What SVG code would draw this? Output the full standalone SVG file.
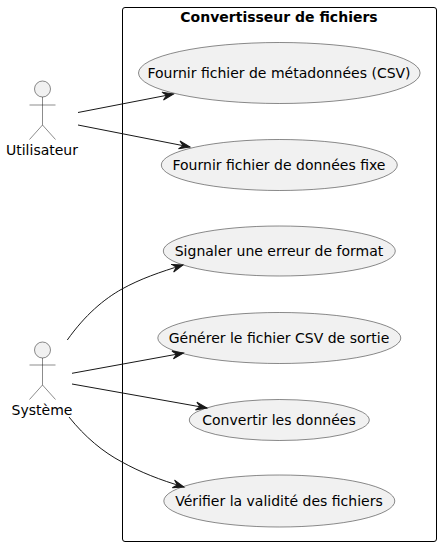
<svg xmlns="http://www.w3.org/2000/svg" width="441" height="547" viewBox="0 0 441 547">
<style>
text{font-family:"DejaVu Sans",sans-serif;font-size:14px;fill:#000;text-anchor:middle}
.title{font-weight:bold}
.uc{fill:#F1F1F1;stroke:#181818;stroke-width:.5}
.actor{fill:none;stroke:#181818;stroke-width:.5}
.head{fill:#F1F1F1;stroke:#181818;stroke-width:.5}
.link{fill:none;stroke:#181818;stroke-width:1}
.boundary{fill:none;stroke:#000;stroke-width:1}
</style>
<defs>
<marker id="arrow" markerUnits="userSpaceOnUse" markerWidth="12" markerHeight="12" refX="11" refY="5" orient="auto" overflow="visible">
<path d="M0 1L11 5L0 9L4 5Z" fill="#181818" stroke="#181818" stroke-width="1"/>
</marker>
</defs>
<g id="boundary"><rect class="boundary" x="122.5" y="7.500" width="314" height="534" rx="2.500"/><text class="title" x="279" y="22">Convertisseur de fichiers</text></g>
<g id="uc1"><ellipse class="uc" cx="279.300" cy="73" rx="140.800" ry="30.500"/><text x="279" y="78">Fournir fichier de métadonnées (CSV)</text></g>
<g id="uc2"><ellipse class="uc" cx="279.300" cy="165" rx="118" ry="25.500"/><text x="279" y="170">Fournir fichier de données fixe</text></g>
<g id="uc3"><ellipse class="uc" cx="279.300" cy="251" rx="116" ry="25"/><text x="279" y="256">Signaler une erreur de format</text></g>
<g id="uc4"><ellipse class="uc" cx="279.300" cy="338" rx="121.500" ry="25.500"/><text x="279" y="343">Générer le fichier CSV de sortie</text></g>
<g id="uc5"><ellipse class="uc" cx="279.300" cy="420" rx="90" ry="20.500"/><text x="279" y="425">Convertir les données</text></g>
<g id="uc6"><ellipse class="uc" cx="279.300" cy="501" rx="115.500" ry="26"/><text x="279" y="506">Vérifier la validité des fichiers</text></g>
<g id="utilisateur"><circle class="head" cx="42.500" cy="89" r="8"/><path class="actor" d="M42.500 97V125M29.500 105H55.500M42.500 125L29.500 139.500M42.500 125L55.500 139.500"/><text x="42" y="155">Utilisateur</text></g>
<g id="systeme"><circle class="head" cx="42.500" cy="350" r="8"/><path class="actor" d="M42.500 358V385M29.500 365H55.500M42.500 385L29.500 399.500M42.500 385L55.500 399.500"/><text x="42" y="415">Système</text></g>
<g id="connectors">
<path class="link" marker-end="url(#arrow)" d="M78 112.500L173.500 94"/>
<path class="link" marker-end="url(#arrow)" d="M78 125L190 147"/>
<path class="link" marker-end="url(#arrow)" d="M67.300 340C85 315 104 299 122 289C140 279 160 272 183 265"/>
<path class="link" marker-end="url(#arrow)" d="M72 373.300L183.500 353"/>
<path class="link" marker-end="url(#arrow)" d="M72 384L207 408"/>
<path class="link" marker-end="url(#arrow)" d="M69 417C85 437 103 452 122 462C140 472 160 480 184 487"/>
</g>
</svg>
